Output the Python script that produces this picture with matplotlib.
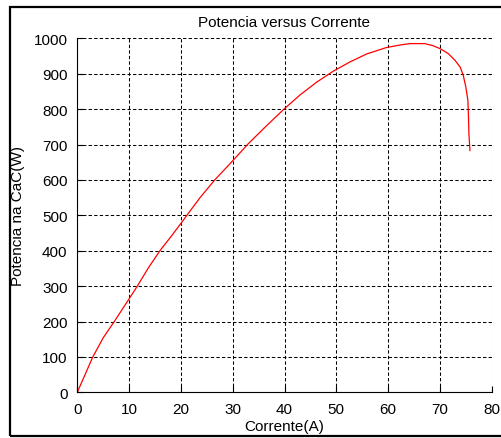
import matplotlib
matplotlib.use("Agg")
import matplotlib.pyplot as plt
from matplotlib.patches import Rectangle

# corrente (A) e potencia (W)
corrente = [0, 3.0, 5.0, 7.1, 10.0, 11.5, 13.7, 16.0, 18.2, 20.0, 21.1, 23.7,
            26.6, 29.5, 33.0, 36.6, 39.9, 43.0, 46.2, 49.4, 52.6, 55.9, 59.7,
            62.3, 64.2, 67.1, 68.7, 70.0, 71.6, 72.9, 73.9, 74.5, 75.0, 75.4,
            75.5, 75.6, 75.8]
potencia = [0, 100, 154, 199, 264, 298, 351, 401, 442, 477, 499, 550,
            601, 646, 702, 754, 800, 840, 876, 907, 933, 956, 974,
            981, 985, 985, 979, 971, 957, 938, 919, 896, 863, 825,
            787, 731, 683]
xticks = [0, 10, 20, 30, 40, 50, 60, 70, 80]
yticks = [0, 100, 200, 300, 400, 500, 600, 700, 800, 900, 1000]

plt.rcParams['font.family'] = ['Liberation Sans', 'DejaVu Sans']
plt.rcParams['font.size'] = 11
plt.rcParams['lines.scale_dashes'] = False

W, H = 502, 439
fig = plt.figure(figsize=(W / 100, H / 100), dpi=100)
fig.patch.set_facecolor('white')

# moldura preta em volta da figura
fig.add_artist(Rectangle((10 / W, 1 - 437 / H), 500 / W, 429 / H,
                         transform=fig.transFigure, fill=False,
                         edgecolor='black', linewidth=1.6))

ax = fig.add_axes([77.3 / W, 1 - 393.3 / H, (491.7 - 77.3) / W, (393.3 - 39.3) / H])
ax.plot(corrente, potencia, color='#ff0000', linewidth=0.9)

ax.set_xlim(0, 80)
ax.set_ylim(0, 1000)
ax.set_xticks(xticks)
ax.set_yticks(yticks)
ax.grid(True, color='black', linestyle=(0, (2.4, 1.6)), linewidth=0.75)
ax.spines['top'].set_visible(False)
ax.spines['right'].set_visible(False)
ax.spines['left'].set_linewidth(0.8)
ax.spines['bottom'].set_linewidth(0.8)
ax.tick_params(direction='in', length=4, width=0.8, pad=7)

ax.set_title('Potencia versus Corrente', fontsize=11, pad=8.5)
ax.set_xlabel('Corrente(A)', fontsize=11, labelpad=2)
ax.set_ylabel('Potencia na CaC(W)', fontsize=11, labelpad=6)

fig.savefig('out.png', dpi=100)
